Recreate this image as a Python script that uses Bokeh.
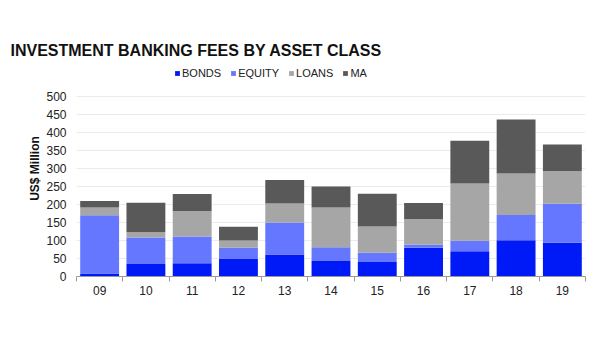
from bokeh.plotting import figure
from bokeh.models import ColumnDataSource, FixedTicker, Legend, LegendItem
from bokeh.embed import file_html
from bokeh.resources import INLINE

years = ["09", "10", "11", "12", "13", "14", "15", "16", "17", "18", "19"]
bonds = [8, 35, 37, 50, 61, 43, 40, 80, 70, 101, 94]
equity = [162, 73, 74, 30, 89, 38, 26, 8, 29, 70, 108]
loans = [22, 15, 71, 20, 53, 111, 73, 72, 159, 115, 91]
ma = [18, 82, 47, 38, 65, 58, 91, 44, 119, 150, 74]
series = ["BONDS", "EQUITY", "LOANS", "MA"]
colors = ["#0019F7", "#6677FF", "#A6A6A6", "#595959"]
y_ticks = [0, 50, 100, 150, 200, 250, 300, 350, 400, 450, 500]

xs = list(range(1, len(years) + 1))
source = ColumnDataSource(dict(x=xs, BONDS=bonds, EQUITY=equity, LOANS=loans, MA=ma))

FONT = "Liberation Sans"

p = figure(width=592, height=350, x_range=(0.5, len(years) + 0.5), y_range=(0, 600),
           output_backend="svg", toolbar_location=None,
           min_border_left=76, min_border_right=7, min_border_top=60, min_border_bottom=74)
p.outline_line_color = None

renderers = p.vbar_stack(series, x="x", width=0.84, source=source, color=colors,
                         line_color=None)

p.title.text = "INVESTMENT BANKING FEES BY ASSET CLASS"
p.title.text_font = FONT
p.title.text_font_size = "16px"
p.title.text_font_style = "bold"
p.title.text_color = "#111111"
p.title.align = "left"
p.title.offset = -66
p.title.standoff = 4

legend = Legend(items=[LegendItem(label=s, renderers=[r]) for s, r in zip(series, renderers)],
                orientation="horizontal", location=(98, 197))
legend.label_text_font = FONT
legend.label_text_font_size = "11px"
legend.label_text_color = "#222222"
legend.glyph_width = 6
legend.glyph_height = 6
legend.label_standoff = 2
legend.spacing = 9
legend.padding = 2
legend.margin = 0
legend.border_line_color = None
legend.background_fill_alpha = 0
legend.label_height = 12
p.add_layout(legend, "center")

# x axis
xt = FixedTicker(ticks=xs, minor_ticks=[i + 0.5 for i in range(len(years) + 1)])
p.xaxis.ticker = xt
p.xaxis.major_label_overrides = {x: y for x, y in zip(xs, years)}
p.xaxis.major_tick_out = 0
p.xaxis.major_tick_in = 0
p.xaxis.minor_tick_out = 5
p.xaxis.minor_tick_in = 0
p.xaxis.axis_line_color = "#999999"
p.xaxis.minor_tick_line_color = "#999999"
p.xaxis.major_label_text_font = FONT
p.xaxis.major_label_text_font_size = "12px"
p.xaxis.major_label_text_color = "#222222"
p.xaxis.major_label_standoff = 4
p.xgrid.grid_line_color = None

# y axis
p.yaxis.ticker = FixedTicker(ticks=y_ticks)
p.yaxis.axis_line_color = None
p.yaxis.major_tick_line_color = None
p.yaxis.major_tick_out = 0
p.yaxis.major_tick_in = 0
p.yaxis.minor_tick_line_color = None
p.yaxis.major_label_text_font = FONT
p.yaxis.major_label_text_font_size = "12px"
p.yaxis.major_label_text_color = "#222222"
p.yaxis.major_label_standoff = 10
p.yaxis.axis_label = "US$ Million"
p.yaxis.axis_label_text_font = FONT
p.yaxis.axis_label_text_font_size = "12px"
p.yaxis.axis_label_text_font_style = "bold"
p.yaxis.axis_label_text_color = "#111111"
p.yaxis.axis_label_standoff = 1
p.ygrid.grid_line_color = "#EBEBEB"

open("out.html", "w").write(file_html(p, INLINE))
